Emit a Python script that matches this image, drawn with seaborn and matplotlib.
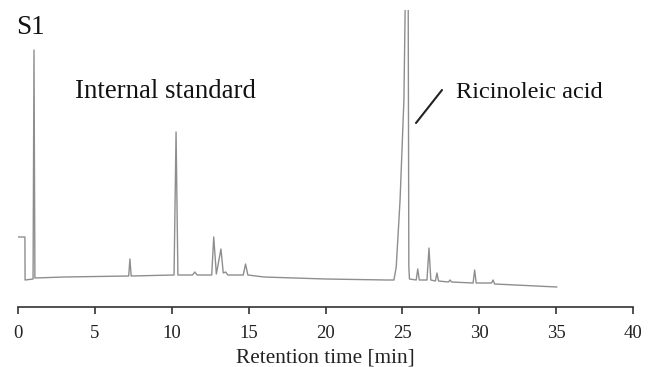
import matplotlib
matplotlib.use("Agg")
import matplotlib.pyplot as plt
import seaborn as sns
import pandas as pd

# Chromatogram trace (time in min, detector signal in arbitrary units)
time_min = [0.0, 0.45, 0.46, 0.98, 1.04, 1.10, 3.0, 7.2, 7.28, 7.36,
            10.15, 10.28, 10.40, 11.35, 11.5, 11.65, 12.6, 12.73, 12.9, 13.2,
            13.35, 13.5, 13.65, 14.65, 14.8, 14.95, 16.0, 20.0, 24.0, 24.45,
            24.6, 24.85, 25.1, 25.18, 25.28, 25.38, 25.42, 25.46, 25.9, 26.0,
            26.1, 26.6, 26.73, 26.85, 27.15, 27.25, 27.35, 28.0, 28.1, 28.2,
            29.6, 29.7, 29.8, 30.8, 30.9, 31.0, 35.05]
signal = [70, 70, 27, 28, 257, 29, 30, 31, 48, 31,
          32, 175, 32, 32, 35, 32, 32, 70, 33, 58,
          34, 35, 32, 32, 43, 32, 30, 28, 27, 27,
          40, 107, 207, 297, 380, 297, 40, 28, 27, 38,
          27, 27, 59, 27, 26, 34, 26, 25, 27, 25,
          24, 37, 24, 24, 27, 23, 20]

x_ticks = [0, 5, 10, 15, 20, 25, 30, 35, 40]
x_label = "Retention time [min]"
panel_label = "S1"
annotations = ["Internal standard", "Ricinoleic acid"]

df = pd.DataFrame({"time": time_min, "signal": signal})

sns.set_theme(style="white")
plt.rcParams["font.family"] = ["Liberation Serif", "DejaVu Serif"]

fig = plt.figure(figsize=(6.58, 3.67), dpi=100)
ax = fig.add_axes([18 / 658, (367 - 307) / 367, (633 - 18) / 658, (307 - 10) / 367])

sns.lineplot(data=df, x="time", y="signal", ax=ax, sort=False, estimator=None,
             color="#8e8e8e", linewidth=1.0)

ax.set_xlim(0, 40)
ax.set_ylim(0, 297)
ax.set_xticks(x_ticks)
ax.set_xticklabels([str(t) for t in x_ticks], fontsize=13.5, color="#222222")
ax.set_yticks([])
ax.set_ylabel("")
ax.set_xlabel(x_label, fontsize=15.3, color="#222222", labelpad=5)
for s in ["top", "right", "left"]:
    ax.spines[s].set_visible(False)
ax.spines["bottom"].set_color("#333333")
ax.spines["bottom"].set_linewidth(1.2)
ax.tick_params(axis="x", direction="out", length=5, width=1.2, color="#333333",
               pad=8, bottom=True)

fig.text(16 / 658, 1 - 28 / 367, panel_label, fontsize=19.5, color="#111111",
         ha="left", va="center")
fig.text(75 / 658, 1 - 92 / 367, annotations[0], fontsize=19.3, color="#111111",
         ha="left", va="center")
fig.text(456 / 658, 1 - 92 / 367, annotations[1], fontsize=17.6, color="#111111",
         ha="left", va="center")
fig.add_artist(plt.Line2D([416 / 658, 442 / 658], [1 - 123 / 367, 1 - 90 / 367],
                          color="#222222", linewidth=1.5))

fig.savefig("out.png", dpi=100)
